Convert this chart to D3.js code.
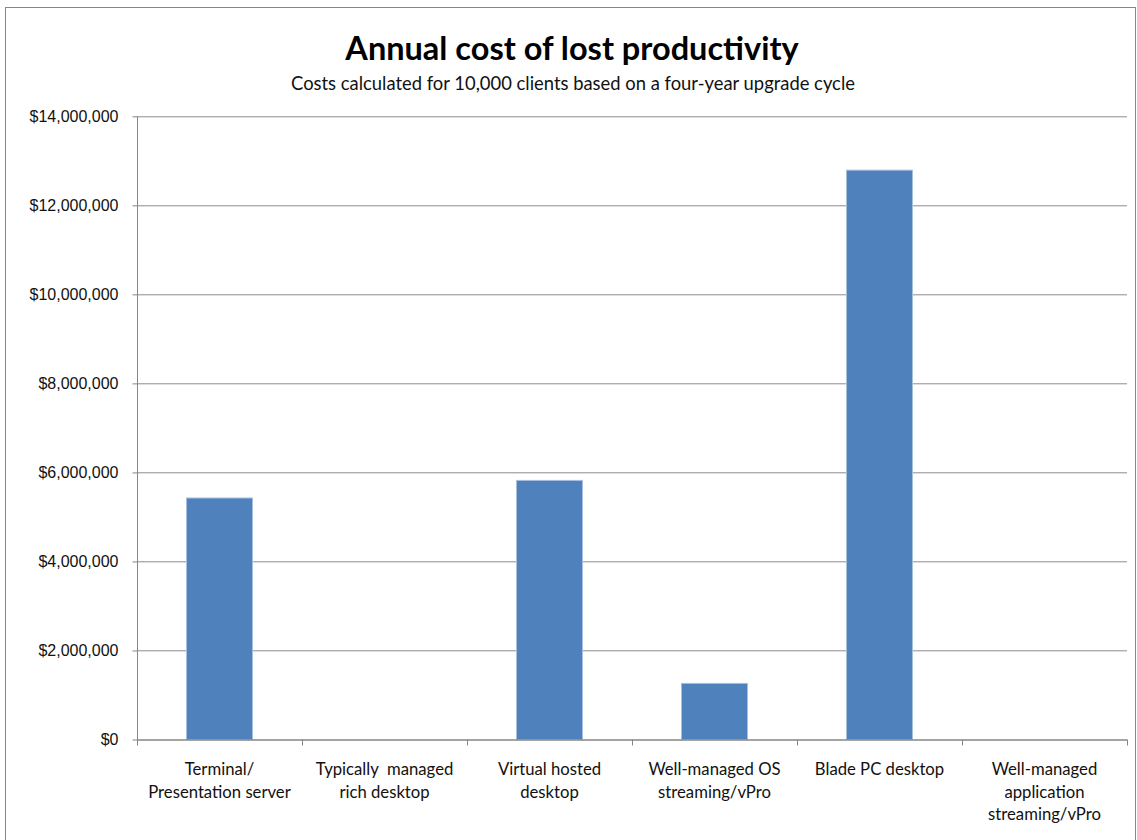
<!DOCTYPE html>
<html>
<head>
<meta charset="utf-8">
<script src="https://cdn.jsdelivr.net/npm/d3@7"></script>
<style>
  html, body { margin: 0; padding: 0; background: #fff; }
  svg { display: block; font-family: Lato, "Open Sans", sans-serif; }
</style>
</head>
<body>
<svg id="chart" width="1137" height="840"></svg>
<script>
// Annual cost of lost productivity per client model (10,000 clients)
const categories = [
  ["Terminal/", "Presentation server"],
  ["Typically  managed", "rich desktop"],
  ["Virtual hosted", "desktop"],
  ["Well-managed OS", "streaming/vPro"],
  ["Blade PC desktop"],
  ["Well-managed", "application", "streaming/vPro"]
];
const costs = [5425000, 0, 5820000, 1260000, 12790000, 0];
const yTicks = [0, 2000000, 4000000, 6000000, 8000000, 10000000, 12000000, 14000000];

const titleText = "Annual cost of lost productivity";
const subtitleText = "Costs calculated for 10,000 clients based on a four-year upgrade cycle";

const svg = d3.select("#chart");
const W = 1137, H = 840;
const margin = { left: 137, right: 10, top: 116.3, bottom: 100.5 };
const plotW = W - margin.left - margin.right;
const plotH = H - margin.top - margin.bottom;

// outer chart frame
svg.append("rect")
  .attr("x", 5.5).attr("y", 7.5)
  .attr("width", 1130).attr("height", 840)
  .attr("fill", "#fff").attr("stroke", "#878787").attr("stroke-width", 1);

const ids = categories.map((c, i) => i);
const x = d3.scaleBand().domain(ids).range([0, plotW]).paddingInner(0.6).paddingOuter(0.3);
const xBand = d3.scaleBand().domain(ids).range([0, plotW]).padding(0);
const y = d3.scaleLinear().domain([0, 14000000]).range([plotH, 0]);

const g = svg.append("g").attr("transform", `translate(${margin.left},${margin.top})`);

// horizontal gridlines
g.append("g")
  .selectAll("line")
  .data(yTicks.filter(t => t > 0))
  .join("line")
  .attr("x1", 0).attr("x2", plotW)
  .attr("y1", d => Math.round(y(d)) + 0.5).attr("y2", d => Math.round(y(d)) + 0.5)
  .attr("stroke", "#8c8c8c").attr("stroke-width", 1);

// bars
g.append("g")
  .selectAll("rect")
  .data(costs)
  .join("rect")
  .attr("x", (d, i) => x(i))
  .attr("width", x.bandwidth())
  .attr("y", d => y(d))
  .attr("height", d => plotH - y(d))
  .attr("fill", "#4f81bd")
  .attr("stroke", d => d > 0 ? "#a6bfdd" : "none")
  .attr("stroke-width", 1);

// y axis
const yAxis = d3.axisLeft(y)
  .tickValues(yTicks)
  .tickSize(5)
  .tickPadding(14)
  .tickFormat(d => "$" + d3.format(",")(d));
const yg = g.append("g").attr("transform", "translate(0.5,0)").call(yAxis);
yg.selectAll(".tick line").attr("stroke", "#868686");
yg.selectAll(".tick text")
  .attr("font-size", 16).attr("fill", "#111");
yg.select(".domain").remove();
yg.append("line").attr("x1", 0).attr("x2", 0).attr("y1", 0).attr("y2", plotH)
  .attr("stroke", "#868686");

// x axis with ticks at category boundaries
const xg = g.append("g").attr("transform", `translate(0,${plotH})`);
xg.append("line").attr("x1", 0).attr("x2", plotW).attr("y1", 0.5).attr("y2", 0.5)
  .attr("stroke", "#868686").attr("stroke-width", 1.5);
const bounds = ids.map(i => xBand(i)).concat([plotW]);
xg.selectAll("line.bt")
  .data(bounds)
  .join("line")
  .attr("class", "bt")
  .attr("x1", d => Math.round(d) + 0.5).attr("x2", d => Math.round(d) + 0.5)
  .attr("y1", 0).attr("y2", 6)
  .attr("stroke", "#868686");

const labels = xg.selectAll("text.cat")
  .data(categories)
  .join("text")
  .attr("class", "cat")
  .attr("text-anchor", "middle")
  .attr("font-size", 16.7)
  .attr("fill", "#111")
  .attr("transform", (d, i) => `translate(${xBand(i) + xBand.bandwidth() / 2},35.5)`);
labels.selectAll("tspan")
  .data(d => d)
  .join("tspan")
  .attr("x", 0)
  .attr("dy", (d, i) => i === 0 ? 0 : 22.5)
  .attr("xml:space", "preserve")
  .style("white-space", "pre")
  .text(d => d);

// titles
svg.append("text")
  .attr("x", 572).attr("y", 60)
  .attr("text-anchor", "middle")
  .attr("font-size", 32.5).attr("font-weight", "bold").attr("fill", "#000")
  .text(titleText);
svg.append("text")
  .attr("x", 573).attr("y", 90)
  .attr("text-anchor", "middle")
  .attr("font-size", 18.4).attr("fill", "#111")
  .text(subtitleText);
</script>
</body>
</html>
